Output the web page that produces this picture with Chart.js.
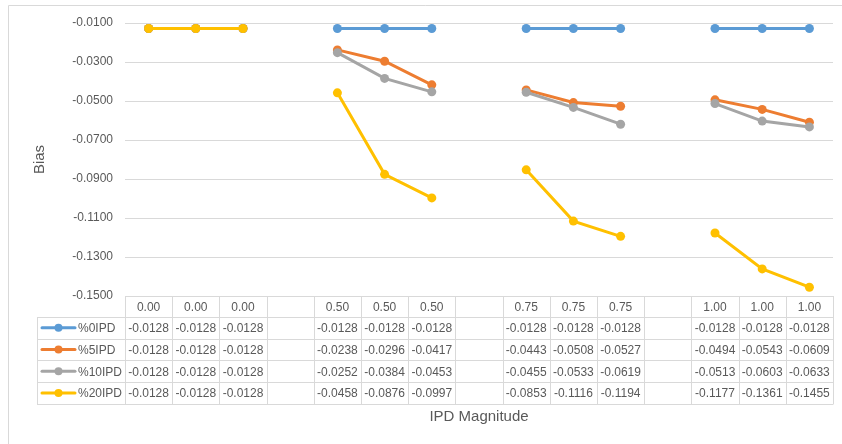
<!DOCTYPE html>
<html>
<head>
<meta charset="utf-8">
<script src="https://cdn.jsdelivr.net/npm/chart.js@4/dist/chart.umd.min.js"></script>
<style>
  body { margin: 0; background: #fff; }
  canvas { display: block; }
</style>
</head>
<body>
<canvas id="biasChart" width="842" height="444"></canvas>
<script>
// categories (blank columns separate the magnitude groups)
const categories = ['0.00', '0.00', '0.00', '', '0.50', '0.50', '0.50', '', '0.75', '0.75', '0.75', '', '1.00', '1.00', '1.00'];

const seriesNames = ['%0IPD', '%5IPD', '%10IPD', '%20IPD'];
const ipd0 = [-0.0128, -0.0128, -0.0128, null, -0.0128, -0.0128, -0.0128, null, -0.0128, -0.0128, -0.0128, null, -0.0128, -0.0128, -0.0128];
const ipd5 = [-0.0128, -0.0128, -0.0128, null, -0.0238, -0.0296, -0.0417, null, -0.0443, -0.0508, -0.0527, null, -0.0494, -0.0543, -0.0609];
const ipd10 = [-0.0128, -0.0128, -0.0128, null, -0.0252, -0.0384, -0.0453, null, -0.0455, -0.0533, -0.0619, null, -0.0513, -0.0603, -0.0633];
const ipd20 = [-0.0128, -0.0128, -0.0128, null, -0.0458, -0.0876, -0.0997, null, -0.0853, -0.1116, -0.1194, null, -0.1177, -0.1361, -0.1455];
const seriesColors = ['#5B9BD5', '#ED7D31', '#A5A5A5', '#FFC000'];

const yMin = -0.15, yMax = -0.01, yStep = 0.02;

const FONT = '"Liberation Sans", Arial, sans-serif';
const TEXT = '#595959';
const LINE = '#d9d9d9';

const allSeries = [ipd0, ipd5, ipd10, ipd20];

// data table under the plot, columns taken from the x scale
const dataTable = {
    id: 'dataTable',
    afterDraw(chart) {
        const ctx = chart.ctx;
        const x = chart.scales.x;
        const area = chart.chartArea;
        const colW = (area.right - area.left) / categories.length;
        const top = area.bottom;
        const headH = 21;
        const rowH = 21.7;
        const legLeft = 37;

        ctx.save();
        ctx.strokeStyle = LINE;
        ctx.lineWidth = 1;

        // grid of the table
        ctx.beginPath();
        ctx.moveTo(area.left, top + 0.5);
        ctx.lineTo(area.right, top + 0.5);
        for (let r = 0; r <= allSeries.length; r++) {
            const yy = Math.round(top + headH + r * rowH) + 0.5;
            ctx.moveTo(legLeft, yy);
            ctx.lineTo(area.right, yy);
        }
        const bottom = Math.round(top + headH + allSeries.length * rowH) + 0.5;
        for (let i = 0; i <= categories.length; i++) {
            const xx = Math.round(area.left + i * colW) + 0.5;
            ctx.moveTo(xx, top);
            ctx.lineTo(xx, bottom);
        }
        ctx.moveTo(legLeft + 0.5, top + headH);
        ctx.lineTo(legLeft + 0.5, bottom);
        ctx.stroke();

        ctx.fillStyle = TEXT;
        ctx.font = '12px ' + FONT;
        ctx.textAlign = 'center';
        ctx.textBaseline = 'middle';
        categories.forEach((c, i) => {
            ctx.fillText(c, x.getPixelForValue(i), top + headH / 2 + 1);
        });

        allSeries.forEach((vals, r) => {
            const cy = top + headH + r * rowH + rowH / 2 + 1;
            ctx.textAlign = 'center';
            vals.forEach((v, i) => {
                if (v === null) return;
                ctx.fillText(v.toFixed(4), x.getPixelForValue(i), cy);
            });
            // legend key
            ctx.strokeStyle = seriesColors[r];
            ctx.lineWidth = 3;
            ctx.lineCap = 'round';
            ctx.beginPath();
            ctx.moveTo(42, cy - 1);
            ctx.lineTo(75, cy - 1);
            ctx.stroke();
            ctx.fillStyle = seriesColors[r];
            ctx.beginPath();
            ctx.arc(58.5, cy - 1, 4, 0, Math.PI * 2);
            ctx.fill();
            ctx.fillStyle = TEXT;
            ctx.textAlign = 'left';
            ctx.fillText(seriesNames[r], 78, cy);
        });

        // axis titles
        ctx.font = '15px ' + FONT;
        ctx.textAlign = 'center';
        ctx.fillText('IPD Magnitude', (area.left + area.right) / 2, 417);
        ctx.translate(40, (area.top + area.bottom) / 2);
        ctx.rotate(-Math.PI / 2);
        ctx.fillText('Bias', 0, 0);
        ctx.restore();

        // outer chart frame (cut off right and bottom)
        ctx.save();
        ctx.strokeStyle = LINE;
        ctx.lineWidth = 1;
        ctx.beginPath();
        ctx.moveTo(8.5, 444);
        ctx.lineTo(8.5, 5.5);
        ctx.lineTo(842, 5.5);
        ctx.stroke();
        ctx.restore();
    }
};

new Chart(document.getElementById('biasChart'), {
    type: 'line',
    data: {
        labels: categories,
        datasets: allSeries.map((vals, i) => ({
            label: seriesNames[i],
            data: vals,
            borderColor: seriesColors[i],
            backgroundColor: seriesColors[i],
            borderWidth: 3,
            pointRadius: 4.5,
            pointHoverRadius: 4.5,
            pointBorderWidth: 0,
            spanGaps: false,
            order: allSeries.length - 1 - i
        }))
    },
    options: {
        responsive: false,
        animation: false,
        layout: { padding: { left: 0, right: 9, top: 23, bottom: 148 } },
        plugins: {
            legend: { display: false },
            tooltip: { enabled: false }
        },
        scales: {
            x: {
                display: false,
                offset: true
            },
            y: {
                min: yMin,
                max: yMax,
                afterFit(scale) { scale.width = 125; },
                border: { display: false },
                grid: { color: LINE, drawTicks: false },
                ticks: {
                    stepSize: yStep,
                    padding: 12,
                    color: TEXT,
                    font: { family: FONT, size: 12 },
                    callback: v => v.toFixed(4)
                }
            }
        }
    },
    plugins: [dataTable]
});
</script>
</body>
</html>
